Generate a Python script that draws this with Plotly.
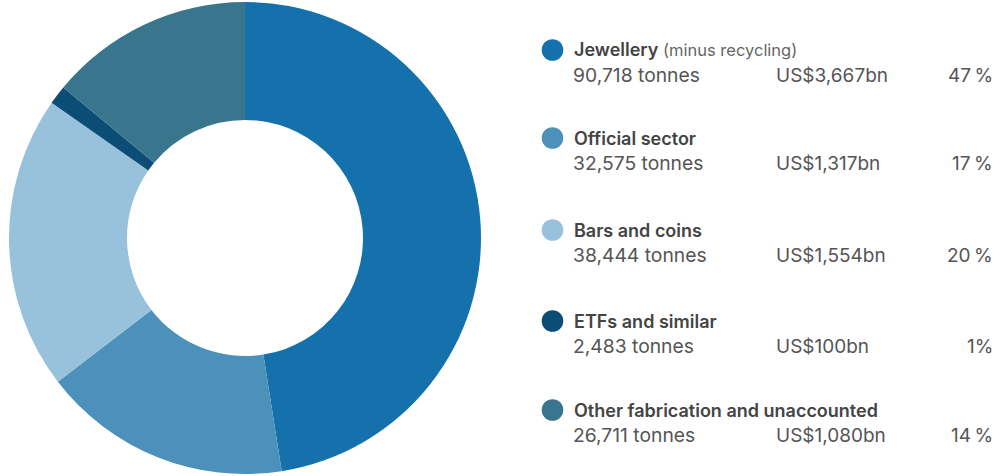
import plotly.graph_objects as go

categories = ["Jewellery", "Official sector", "Bars and coins", "ETFs and similar",
              "Other fabrication and unaccounted"]
subtitles = ["(minus recycling)", "", "", "", ""]
tonnes = [90718, 32575, 38444, 2483, 26711]
tonnes_labels = ["90,718 tonnes", "32,575 tonnes", "38,444 tonnes", "2,483 tonnes", "26,711 tonnes"]
usd_labels = ["US$3,667bn", "US$1,317bn", "US$1,554bn", "US$100bn", "US$1,080bn"]
pct_labels = ["47\u2009%", "17\u2009%", "20\u2009%", "1%", "14\u2009%"]
colors = ["#1571ab", "#4c91b9", "#98c1db", "#0b4d75", "#39768d"]

W, H = 1000, 476

fig = go.Figure()
fig.add_trace(go.Pie(
    labels=categories,
    values=tonnes,
    hole=0.5,
    sort=False,
    direction="clockwise",
    rotation=0,
    marker=dict(colors=colors, line=dict(width=0)),
    textinfo="none",
    hoverinfo="label+value+percent",
    domain=dict(x=[8 / W, 482 / W], y=[2 / H, 474 / H]),
    showlegend=False,
))

font = "Inter, Roboto, sans-serif"
title_y = [50, 138, 230, 321, 410]
annotations = []
shapes = []
for i, cat in enumerate(categories):
    yt = title_y[i]
    yd = yt + 25
    r = 10.8
    cx = 552.5
    shapes.append(dict(type="circle", xref="paper", yref="paper",
                       x0=(cx - r) / W, x1=(cx + r) / W,
                       y0=1 - (yt + r) / H, y1=1 - (yt - r) / H,
                       fillcolor=colors[i], line=dict(width=0)))
    title = cat
    if subtitles[i]:
        title += f"<span style='font-size:16.5px;font-weight:400;color:#666'> {subtitles[i]}</span>"
    annotations.append(dict(x=572 / W, y=1 - yt / H, xref="paper", yref="paper",
                            text=title, showarrow=False, xanchor="left", yanchor="middle",
                            font=dict(family=font, size=18, color="#444444", weight=600)))
    annotations.append(dict(x=571 / W, y=1 - yd / H, xref="paper", yref="paper",
                            text=tonnes_labels[i], showarrow=False, xanchor="left", yanchor="middle",
                            font=dict(family=font, size=19.3, color="#555555")))
    annotations.append(dict(x=774 / W, y=1 - yd / H, xref="paper", yref="paper",
                            text=usd_labels[i], showarrow=False, xanchor="left", yanchor="middle",
                            font=dict(family=font, size=19, color="#555555")))
    annotations.append(dict(x=995 / W, y=1 - yd / H, xref="paper", yref="paper",
                            text=pct_labels[i], showarrow=False, xanchor="right", yanchor="middle",
                            font=dict(family=font, size=19, color="#555555")))

fig.update_layout(
    width=W, height=H,
    margin=dict(l=0, r=0, t=0, b=0),
    paper_bgcolor="white", plot_bgcolor="white",
    annotations=annotations, shapes=shapes,
)
fig.write_html("out.html", config={"displayModeBar": False},
               post_script="document.body.style.margin='0';document.body.style.overflow='hidden';")
